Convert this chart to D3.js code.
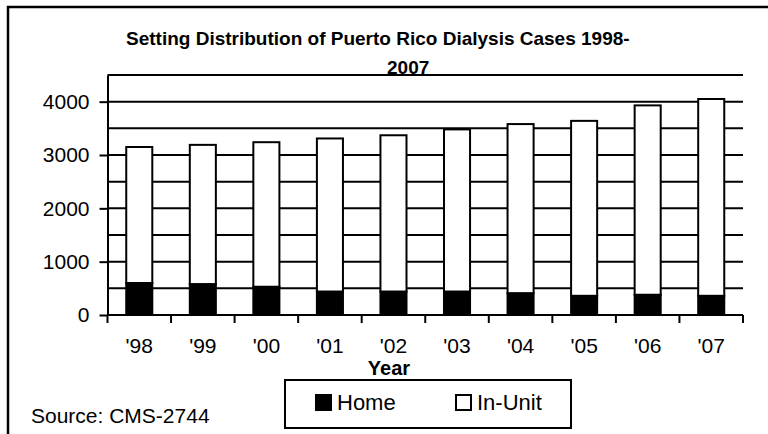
<!DOCTYPE html>
<html>
<head>
<meta charset="utf-8">
<script src="https://cdn.jsdelivr.net/npm/d3@7"></script>
<style>
  body { margin: 0; background: #fff; }
  svg { display: block; font-family: "Liberation Sans", Arial, sans-serif; }
</style>
</head>
<body>
<svg id="canvas" width="768" height="434"></svg>
<script>
// data
let years = ["'98", "'99", "'00", "'01", "'02", "'03", "'04", "'05", "'06", "'07"]
let home = [600, 580, 530, 440, 440, 440, 410, 360, 380, 360]
let inUnit = [2550, 2610, 2710, 2870, 2930, 3040, 3170, 3280, 3550, 3690]
let seriesNames = ['Home', 'In-Unit']
let seriesColors = ['#000000', '#ffffff']
let yTicks = [0, 1000, 2000, 3000, 4000]
let gridValues = [500, 1000, 1500, 2000, 2500, 3000, 3500, 4000, 4500]

let font = '"Liberation Sans", Arial, sans-serif'
let canvas = d3.select('#canvas')

let plotLeft = 107.5, plotRight = 743, plotTop = 75, plotBottom = 315

let xScale = d3.scaleBand().domain(years).range([plotLeft, plotRight])
let yScale = d3.scaleLinear().domain([0, 4500]).range([plotBottom, plotTop])

// outer frame (runs off the right and bottom edge)
canvas.append('rect')
  .attr('x', 8).attr('y', 7)
  .attr('width', 800).attr('height', 500)
  .attr('fill', 'none').attr('stroke', '#000').attr('stroke-width', 2.5)

// title
canvas.append('text')
  .attr('x', 126).attr('y', 45)
  .attr('font-size', 19).attr('font-weight', 'bold')
  .text('Setting Distribution of Puerto Rico Dialysis Cases 1998-')
canvas.append('text')
  .attr('x', 387).attr('y', 74)
  .attr('font-size', 19).attr('font-weight', 'bold')
  .text('2007')

// gridlines
canvas.append('g')
  .selectAll('line')
  .data(gridValues)
  .enter()
  .append('line')
  .attr('x1', plotLeft).attr('x2', plotRight)
  .attr('y1', (v) => yScale(v)).attr('y2', (v) => yScale(v))
  .attr('stroke', '#000').attr('stroke-width', 2)

// stacked bars
let table = years.map((y, i) => ({ year: y, Home: home[i], 'In-Unit': inUnit[i] }))
let stacked = d3.stack().keys(seriesNames)(table)
let barWidth = xScale.bandwidth() * 0.41

canvas.append('g')
  .selectAll('g')
  .data(stacked)
  .enter()
  .append('g')
  .attr('fill', (s, i) => seriesColors[i])
  .selectAll('rect')
  .data((s) => s)
  .enter()
  .append('rect')
  .attr('x', (d) => xScale(d.data.year) + (xScale.bandwidth() - barWidth) / 2)
  .attr('width', barWidth)
  .attr('y', (d) => yScale(d[1]))
  .attr('height', (d) => yScale(d[0]) - yScale(d[1]))
  .attr('stroke', '#000').attr('stroke-width', 2)

// y axis
let yAxis = canvas.append('g')
  .attr('transform', 'translate(' + plotLeft + ',0)')
  .call(d3.axisLeft(yScale).tickValues(yTicks).tickFormat(d3.format('d'))
    .tickSize(8).tickSizeOuter(0).tickPadding(10))
yAxis.attr('font-family', font)
yAxis.selectAll('line, path').attr('stroke', '#000').attr('stroke-width', 2)
yAxis.selectAll('text').attr('font-size', 21).attr('fill', '#000')

// x axis with ticks at category boundaries
let xAxis = canvas.append('g')
  .attr('transform', 'translate(0,' + plotBottom + ')')
xAxis.append('line')
  .attr('x1', plotLeft).attr('x2', plotRight)
  .attr('stroke', '#000').attr('stroke-width', 2)
let boundaries = years.map((y) => xScale(y)).concat([plotRight])
xAxis.selectAll('.tick')
  .data(boundaries)
  .enter()
  .append('line')
  .attr('x1', (x) => x).attr('x2', (x) => x)
  .attr('y1', 0).attr('y2', 8)
  .attr('stroke', '#000').attr('stroke-width', 2)
xAxis.selectAll('.lbl')
  .data(years)
  .enter()
  .append('text')
  .attr('x', (y) => xScale(y) + xScale.bandwidth() / 2)
  .attr('y', 38)
  .attr('text-anchor', 'middle')
  .attr('font-size', 21)
  .text((y) => y)

canvas.append('text')
  .attr('x', 389).attr('y', 375)
  .attr('text-anchor', 'middle')
  .attr('font-size', 20).attr('font-weight', 'bold')
  .text('Year')

// legend
let legend = canvas.append('g').attr('transform', 'translate(285,380)')
legend.append('rect')
  .attr('width', 286).attr('height', 48)
  .attr('fill', '#fff').attr('stroke', '#000').attr('stroke-width', 2)
let legendX = [31, 171]
let item = legend.selectAll('.item')
  .data(seriesNames)
  .enter()
  .append('g')
  .attr('transform', (s, i) => 'translate(' + legendX[i] + ',15)')
item.append('rect')
  .attr('width', 15).attr('height', 15)
  .attr('fill', (s, i) => seriesColors[i])
  .attr('stroke', '#000').attr('stroke-width', 2)
item.append('text')
  .attr('x', 21).attr('y', 15)
  .attr('font-size', 22)
  .text((s) => s)

canvas.append('text')
  .attr('x', 31).attr('y', 423)
  .attr('font-size', 21)
  .text('Source: CMS-2744')
</script>
</body>
</html>
